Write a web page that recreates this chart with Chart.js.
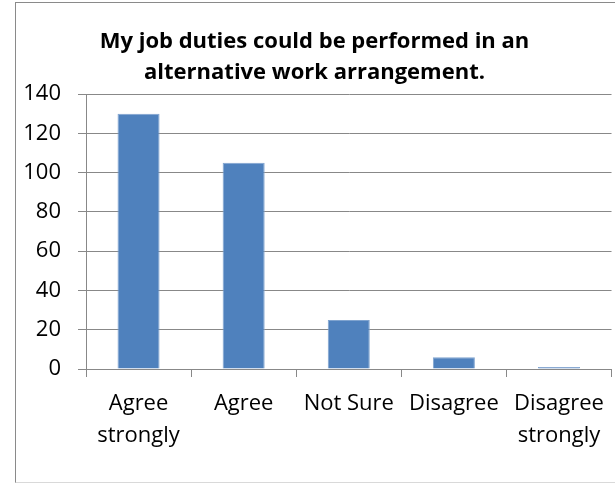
<!DOCTYPE html>
<html>
<head>
<meta charset="utf-8">
<script src="https://cdn.jsdelivr.net/npm/chart.js@4"></script>
<style>
  html, body { margin: 0; padding: 0; background: #fff; }
  #wrap { position: relative; width: 615px; height: 483px; overflow: hidden; }
  #frame { position: absolute; left: 15px; top: 2px; width: 620px; height: 479px;
           border-left: 1px solid #8a8a8a; border-top: 1px solid #8a8a8a; border-bottom: 1px solid #d9d9d9; }
  canvas { position: absolute; left: 0; top: 0; }
</style>
</head>
<body>
<div id="wrap">
  <div id="frame"></div>
  <canvas id="c" width="615" height="483"></canvas>
</div>
<script>
const titleLines = ["My job duties could be performed in an", "alternative work arrangement."];
const categories = [["Agree", "strongly"], "Agree", "Not Sure", "Disagree", ["Disagree", "strongly"]];
const responses = [130, 105, 25, 6, 1];
const yMin = 0, yMax = 140, yStep = 20;

const FONT = "'Open Sans', sans-serif";

new Chart(document.getElementById('c'), {
  type: 'bar',
  data: {
    labels: categories,
    datasets: [{
      data: responses,
      backgroundColor: '#4F81BD',
      borderColor: '#7FA3CF',
      borderWidth: { left: 1, right: 1, top: 1, bottom: 0 },
      categoryPercentage: 1.0,
      barPercentage: 0.4
    }]
  },
  options: {
    responsive: false,
    animation: false,
    layout: { padding: { left: 15, right: 1, top: 2, bottom: 0 } },
    plugins: {
      legend: { display: false },
      tooltip: { enabled: false },
      title: {
        display: true,
        text: titleLines,
        color: '#000',
        font: { family: FONT, size: 22, weight: 'bold', lineHeight: 1.41 },
        padding: { top: 24, bottom: 6 }
      }
    },
    scales: {
      x: {
        grid: { display: true, drawOnChartArea: false, drawTicks: true, tickLength: 8, color: '#888', lineWidth: 1 },
        border: { display: true, color: '#888', width: 1 },
        ticks: { color: '#000', font: { family: FONT, size: 22, lineHeight: 1.45 }, padding: 11, maxRotation: 0, autoSkip: false },
        afterFit(scale) { scale.height = 114; }
      },
      y: {
        min: yMin, max: yMax,
        grid: { display: true, drawTicks: true, tickLength: 8, color: '#888', lineWidth: 1 },
        border: { display: true, color: '#888', width: 1 },
        ticks: { stepSize: yStep, color: '#000', font: { family: FONT, size: 22 }, padding: 17 },
        afterFit(scale) { scale.width = 71; }
      }
    }
  }
});
</script>
</body>
</html>
